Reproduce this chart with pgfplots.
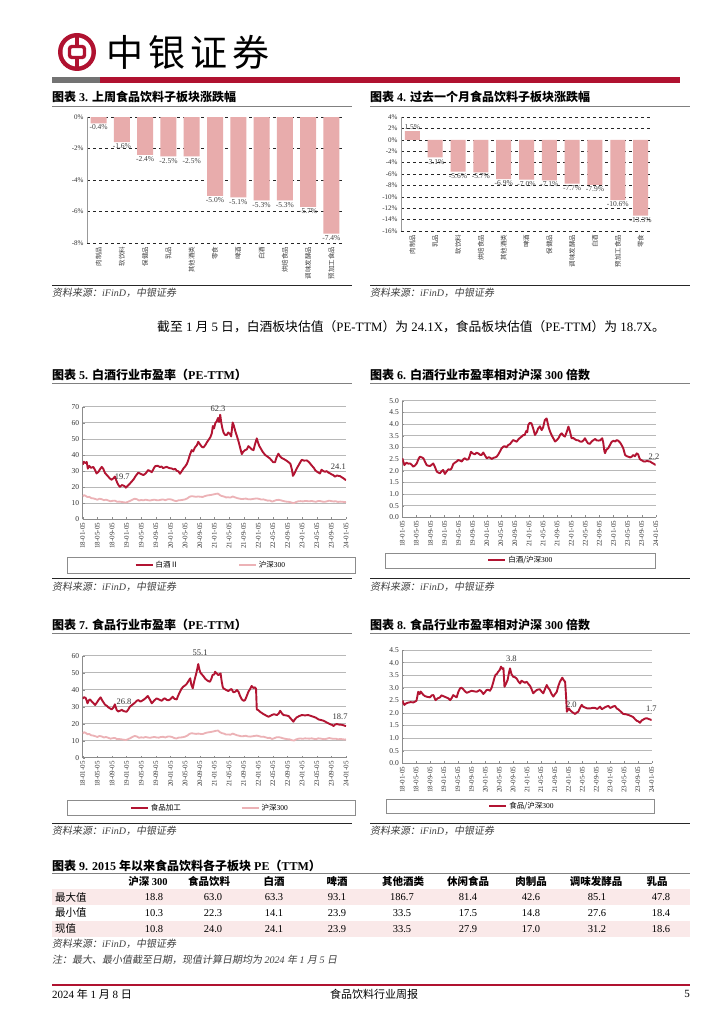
\documentclass[border=0pt]{standalone}
\usepackage{fontspec}
\setmainfont{Liberation Serif}
\newfontfamily\cjk{Noto Sans CJK SC}
\newfontfamily\cjkit{Noto Sans CJK SC}[FakeSlant=0.18]
\usepackage{pgfplots}
\usepackage{pgfplotstable}
\pgfplotsset{compat=1.18}
\pgfkeys{/pgf/number format/assume math mode=true}

\newcommand{\zh}[1]{{\cjk #1}}
\newcommand{\zhit}[1]{{\cjkit #1}}
\newcommand{\src}{{\itshape\zhit{资料来源：}iFinD\zhit{，中银证券}}}

\definecolor{bocred}{RGB}{176,18,48}
\definecolor{linered}{RGB}{178,20,50}
\definecolor{hspink}{RGB}{236,178,182}
\definecolor{barpink}{RGB}{232,172,172}
\definecolor{rowpink}{RGB}{250,233,233}

% ---- data (months since 2018-01-05) ----
\pgfplotstableread{
x y
0 34.0
0.3 35.8
0.7 35.0
1.1 35.6
1.4 31.5
1.8 33.2
2.3 32.0
2.9 32.6
3.4 30.5
3.8 28.5
4.3 29.5
4.7 31.0
5.2 32.6
5.6 31.5
6.1 28.8
6.6 27.5
7.0 26.5
7.5 25.2
7.9 24.6
8.4 25.5
8.8 26.6
9.3 23.5
9.7 21.5
10.2 20.2
10.7 21.3
11.1 21.0
11.5 20.5
11.8 19.7
12.3 20.8
12.9 22.2
13.4 23.5
13.9 24.8
14.5 27.0
15.2 29.0
15.8 28.3
16.6 27.5
17.2 28.5
17.9 30.6
18.4 30.0
18.9 29.3
19.4 31.5
19.8 33.0
20.5 33.3
21.1 32.5
21.6 32.8
22.0 31.8
22.5 32.3
23.0 32.6
23.6 31.9
24.3 31.6
24.9 31.0
25.3 31.4
25.7 30.2
26.2 29.8
26.6 28.3
27.1 30.0
27.6 31.8
28.0 32.8
28.5 34.5
28.9 37.0
29.3 40.0
29.8 43.0
30.2 42.2
30.7 44.7
31.2 46.0
31.6 48.2
32.1 46.5
32.6 45.0
33.0 44.7
33.5 46.0
34.0 48.0
34.4 49.3
34.9 51.0
35.3 53.4
35.6 58.0
35.9 56.5
36.3 60.0
36.6 60.7
37.0 63.0
37.3 60.5
37.6 65.0
37.9 60.0
38.2 56.5
38.5 54.0
38.9 52.5
39.4 52.4
39.8 54.0
40.3 53.0
40.6 51.5
41.0 60.2
41.3 58.5
41.7 55.0
42.2 51.5
42.6 48.5
43.0 45.0
43.5 40.5
43.9 42.0
44.4 43.0
44.9 43.5
45.3 45.5
45.8 44.5
46.2 43.5
46.7 43.0
47.1 46.5
47.6 50.3
47.9 48.0
48.3 45.5
48.7 44.0
49.2 42.0
49.9 40.0
50.5 39.0
51.2 37.8
51.7 36.5
52.1 35.5
52.6 35.5
53.0 38.5
53.5 40.8
54.0 39.0
54.5 38.0
54.9 37.6
55.5 36.8
56.0 36.0
56.3 35.5
56.8 34.5
57.2 31.0
57.5 27.0
57.9 28.5
58.5 31.5
59.0 33.5
59.5 35.5
59.9 37.0
60.5 36.5
61.3 36.6
61.9 35.5
62.6 33.5
63.2 32.0
63.6 30.5
64.0 29.7
64.5 29.0
64.9 28.5
65.3 30.8
65.8 30.0
66.3 29.5
66.7 30.0
67.2 29.0
67.6 28.6
68.0 28.0
68.5 27.5
69.0 26.5
69.5 27.2
70.0 27.0
70.4 26.8
70.8 26.2
71.3 25.5
71.7 24.8
72.0 24.3
}\tbBaijiu

\pgfplotstableread{
x y
0 14.3
0.4 15.0
0.8 14.6
1.3 13.8
1.8 14.0
2.3 13.2
2.9 13.0
3.5 12.6
4.0 12.2
4.6 12.8
5.2 12.5
5.8 11.9
6.4 12.2
7.0 11.7
7.6 11.2
8.2 11.5
8.8 11.6
9.4 10.9
10.0 11.0
10.6 10.8
11.2 10.6
11.8 10.4
12.4 10.9
13.0 11.5
13.6 12.2
14.2 12.8
14.8 12.5
15.4 11.7
16.0 12.0
16.6 11.8
17.2 12.2
17.8 11.9
18.4 11.7
19.0 12.0
19.6 12.2
20.2 11.9
20.8 11.8
21.4 12.2
22.0 12.3
22.6 11.9
23.2 12.4
23.8 12.5
24.4 12.2
25.0 11.6
25.6 11.3
26.2 11.8
26.8 11.9
27.4 12.1
28.0 12.4
28.6 13.0
29.2 14.0
29.8 14.4
30.4 14.2
31.0 14.0
31.6 14.2
32.2 14.0
32.8 13.9
33.4 14.4
34.0 14.8
34.6 15.0
35.2 15.2
35.8 15.5
36.4 15.8
37.0 16.0
37.4 15.2
38.0 14.5
38.6 14.2
39.2 13.6
39.8 13.7
40.4 13.5
41.0 14.2
41.6 13.7
42.2 13.2
42.8 12.9
43.4 12.6
44.0 12.7
44.6 12.9
45.2 12.5
45.8 12.4
46.4 12.6
47.0 12.8
47.6 13.0
48.2 12.7
48.8 12.3
49.4 12.4
50.0 12.0
50.6 11.6
51.2 11.7
51.8 11.0
52.4 11.5
53.0 12.0
53.6 12.1
54.2 11.8
54.8 11.4
55.4 11.1
56.0 10.9
56.6 10.8
57.2 10.3
57.8 10.1
58.4 10.8
59.0 11.2
59.6 11.3
60.2 11.1
60.8 11.4
61.4 11.3
62.0 11.2
62.6 11.4
63.2 11.1
63.8 10.9
64.4 11.4
65.0 11.3
65.6 11.0
66.2 10.9
66.8 11.2
67.4 11.6
68.0 11.3
68.6 11.1
69.2 11.2
69.8 10.8
70.4 11.0
71.0 10.9
71.6 10.7
72.0 10.8
}\tbHS

\pgfplotstableread{
x y
0 34.8
0.4 35.6
0.8 35.2
1.1 33.5
1.3 32.0
1.7 33.8
2.0 34.3
2.5 33.0
3.0 32.0
3.4 31.0
3.9 32.5
4.3 33.9
4.9 35.5
5.4 33.5
6.1 31.2
6.6 30.5
7.0 29.6
7.5 29.0
7.9 28.4
8.4 29.5
8.8 31.4
9.3 28.0
9.7 27.2
10.2 27.6
10.7 28.2
11.1 27.5
11.6 27.2
12.0 27.0
12.5 28.5
12.9 30.0
13.5 31.0
14.3 32.4
14.8 33.5
15.2 33.9
15.8 33.0
16.6 34.0
17.2 35.0
17.8 36.3
18.3 34.5
18.9 32.0
19.5 33.5
20.2 34.9
20.9 34.2
21.6 33.5
22.1 34.6
22.5 34.9
23.0 34.0
23.5 33.8
23.9 34.3
24.6 35.9
25.1 34.6
25.7 34.3
26.1 36.5
26.6 38.8
27.0 40.5
27.5 41.8
28.0 42.5
28.4 43.3
28.9 45.0
29.4 46.7
29.7 43.0
30.1 40.8
30.4 44.0
30.7 46.7
31.1 50.0
31.4 53.0
31.6 55.1
31.9 52.0
32.2 50.0
32.5 49.2
33.0 48.0
33.5 46.5
33.9 45.7
34.4 45.0
34.8 44.7
35.2 46.5
35.5 48.6
36.0 49.0
36.2 50.6
36.7 49.5
37.1 48.6
37.7 49.6
38.0 45.0
38.3 41.5
38.5 40.8
39.1 40.0
39.8 39.2
40.3 40.0
40.7 40.4
41.2 38.5
41.7 38.8
42.2 39.8
42.6 38.8
43.0 36.5
43.5 34.3
44.0 33.5
44.4 33.9
44.9 36.5
45.3 38.8
45.8 40.5
46.2 42.2
46.7 41.0
47.1 41.4
47.4 40.5
47.6 28.4
48.0 28.0
48.5 27.0
49.0 26.3
49.4 25.7
50.0 25.0
50.8 24.1
51.3 24.6
51.7 25.1
52.3 25.6
53.1 25.1
53.6 26.0
54.0 27.6
54.5 26.0
54.9 25.1
55.6 24.9
56.3 24.5
56.9 23.0
57.3 22.0
57.6 21.2
58.0 22.5
58.5 23.7
59.2 24.5
59.9 25.1
60.8 24.9
61.7 25.1
62.4 24.6
63.1 24.1
63.8 23.5
64.5 22.5
65.1 22.2
65.8 21.8
66.5 21.0
67.2 20.2
67.8 19.6
68.3 19.2
68.6 18.6
69.0 19.5
69.5 19.8
70.1 19.5
70.8 19.4
71.4 19.0
72.0 18.6
}\tbFood

\pgfplotstableread{
x y
0 2.53
0.3 2.38
0.6 2.24
0.9 2.30
1.2 2.34
1.7 2.30
2.2 2.31
2.7 2.25
3.1 2.17
3.6 2.22
4.1 2.31
4.6 2.50
5.0 2.60
5.5 2.57
6.0 2.53
6.4 2.40
6.9 2.24
7.4 2.21
7.9 2.20
8.4 2.26
8.8 2.31
9.3 2.15
9.8 1.96
10.2 1.92
10.7 1.89
11.2 1.98
11.6 2.03
12.1 1.86
12.6 1.97
13.1 2.06
13.6 2.04
14.0 2.10
14.5 2.29
15.0 2.35
15.5 2.40
15.9 2.46
16.4 2.43
16.9 2.39
17.4 2.50
17.8 2.53
18.3 2.47
18.8 2.49
19.2 2.65
19.5 2.81
20.0 2.74
20.6 2.70
21.1 2.77
21.6 2.74
22.1 2.68
22.5 2.67
23.0 2.78
23.5 2.65
24.0 2.53
24.6 2.58
25.0 2.55
25.4 2.50
25.9 2.55
26.4 2.57
26.8 2.60
27.3 2.70
27.7 2.81
28.2 2.95
28.7 3.03
29.1 3.05
29.6 3.00
30.1 3.10
30.6 3.14
31.0 3.22
31.5 3.31
32.0 3.28
32.5 3.24
33.0 3.35
33.4 3.40
33.9 3.46
34.3 3.52
34.8 3.53
35.2 3.70
35.5 3.65
35.8 3.96
36.2 4.05
36.7 4.03
37.2 3.80
37.7 3.53
38.2 3.65
38.6 3.81
39.1 3.90
39.6 3.74
40.0 3.85
40.5 4.17
41.0 4.24
41.3 4.05
41.6 3.85
42.0 3.67
42.5 3.50
42.9 3.39
43.4 3.25
43.9 3.31
44.4 3.40
44.9 3.55
45.3 3.60
45.8 3.50
46.2 3.46
46.7 3.65
47.2 3.89
47.6 3.70
48.1 3.39
48.6 3.40
49.0 3.35
49.5 3.31
50.0 3.30
50.5 3.25
51.0 3.24
51.5 3.30
51.9 3.39
52.4 3.25
52.8 3.17
53.3 3.15
53.8 3.25
54.3 3.31
54.8 3.36
55.2 3.30
55.7 3.29
56.2 3.30
56.8 3.39
57.1 3.20
57.4 2.85
57.6 2.75
58.0 2.90
58.5 2.96
59.0 3.10
59.5 3.24
60.0 3.28
60.5 3.25
60.9 3.31
61.4 3.28
61.9 3.20
62.3 3.10
62.8 2.95
63.3 2.67
63.8 2.62
64.2 2.60
64.7 2.57
65.2 2.60
65.6 2.67
66.1 2.62
66.6 2.74
67.0 2.70
67.5 2.49
68.0 2.45
68.5 2.40
69.0 2.39
69.5 2.42
70.0 2.40
70.4 2.39
70.9 2.34
71.4 2.30
72.0 2.24
}\tbBaijiuRel

\pgfplotstableread{
x y
0 2.49
0.3 2.40
0.6 2.32
1.1 2.38
1.7 2.41
2.4 2.43
3.2 2.42
3.7 2.45
4.1 2.49
4.4 2.70
4.6 2.84
5.0 2.75
5.3 2.85
5.6 2.80
6.0 2.73
6.5 2.67
7.2 2.64
8.0 2.62
8.5 2.70
9.0 2.71
9.3 2.60
9.6 2.51
10.2 2.58
10.9 2.62
11.3 2.70
11.8 2.67
12.3 2.64
12.8 2.61
13.3 2.58
13.8 2.51
14.3 2.60
14.7 2.71
15.2 2.66
15.7 2.62
16.2 2.85
16.7 2.98
17.1 3.00
17.6 2.94
18.1 2.86
18.6 2.80
19.3 2.84
20.0 2.88
20.7 2.86
21.5 2.84
22.0 2.88
22.4 2.91
22.9 2.85
23.4 2.75
23.9 2.83
24.3 2.91
24.8 2.92
25.3 2.88
25.8 3.00
26.3 3.24
26.6 3.40
26.9 3.51
27.3 3.55
27.7 3.64
28.1 3.70
28.5 3.84
28.9 3.75
29.2 3.78
29.5 3.04
29.9 3.15
30.4 3.31
30.8 3.60
31.1 3.77
31.5 3.55
32.0 3.44
32.5 3.42
33.0 3.37
33.5 3.25
34.0 3.17
34.4 3.28
34.9 3.24
35.4 3.20
35.9 3.24
36.4 3.15
36.9 3.07
37.3 2.95
37.8 2.78
38.3 2.85
38.8 2.91
39.2 2.93
39.7 2.94
40.2 2.85
40.7 2.78
41.2 2.95
41.7 3.11
42.1 3.00
42.6 2.91
43.1 2.75
43.6 2.65
44.1 2.75
44.6 2.84
45.0 3.05
45.5 3.24
46.2 3.40
46.6 3.30
47.0 3.24
47.3 2.60
47.5 2.05
48.1 2.18
48.5 2.10
48.9 2.05
49.4 2.00
49.9 1.96
50.4 2.02
50.8 2.05
51.3 2.20
51.8 2.32
52.2 2.25
52.7 2.22
53.4 2.18
54.2 2.18
54.9 2.20
55.6 2.20
56.3 2.16
57.1 2.25
57.6 2.15
58.0 2.18
58.7 2.24
59.5 2.28
60.0 2.20
60.4 2.22
60.9 2.26
61.4 2.28
61.9 2.18
62.4 2.14
63.1 2.05
63.8 1.96
64.5 1.95
65.3 1.92
66.0 1.88
66.7 1.83
67.2 1.75
67.7 1.69
68.2 1.66
68.6 1.61
69.1 1.70
69.6 1.74
70.1 1.78
70.6 1.79
71.3 1.75
72.0 1.72
}\tbFoodRel

\tikzset{
  redline/.style={linered, line width=1.9pt, line join=round},
  pinkline/.style={hspink, line width=1.8pt, line join=round},
  lbl/.style={font=\fontsize{8.5}{8.5}\selectfont, text=black!80, inner sep=0pt},
}
\pgfplotsset{
  barchart/.style={
    scale only axis, anchor=south west, ybar, enlargelimits=false,
    xmin=-0.5, xmax=10.5, xtick={0,...,10},
    xticklabel style={font=\cjk\fontsize{6.5}{6.5}\selectfont, rotate=90, anchor=east, text=black!75},
    yticklabel={\pgfmathprintnumber{\tick}\%},
    yticklabel style={font=\fontsize{7}{7}\selectfont, text=black!80},
    ymajorgrids, grid style={black!85, dashed, line width=0.4pt},
    axis lines*=left, axis line style={-}, x axis line style={draw=none},
    y axis line style={black!40}, major tick length=0pt,
    nodes near coords={\pgfmathprintnumber[fixed,fixed zerofill,precision=1]{\pgfplotspointmeta}\%},
    every node near coord/.append style={font=\fontsize{7.5}{7.5}\selectfont, text=black!75, inner sep=1.5pt},
  },
  linechart/.style={
    scale only axis, anchor=south west, xmin=0, xmax=72, clip mode=individual,
    xtick={0,4,...,72},
    xticklabels={18-01-05,18-05-05,18-09-05,19-01-05,19-05-05,19-09-05,20-01-05,20-05-05,20-09-05,21-01-05,21-05-05,21-09-05,22-01-05,22-05-05,22-09-05,23-01-05,23-05-05,23-09-05,24-01-05},
    x tick label style={rotate=90, anchor=east, font=\fontsize{7}{7}\selectfont, text=black!80},
    y tick label style={font=\fontsize{7.5}{7.5}\selectfont, text=black!80},
    ymajorgrids, grid style={black!28, line width=0.6pt},
    axis lines*=left, axis line style={-, black!45, line width=0.6pt},
    major tick length=2pt, tick style={black!45},
    legend style={draw=none, fill=none, font=\fontsize{7.5}{7.5}\selectfont, legend columns=2, anchor=center,
      /tikz/every even column/.append style={column sep=58pt}},
    legend image code/.code={\draw[#1, line width=1.9pt] (0pt,0pt) -- (17pt,0pt);},
  },
}

\begin{document}
\begin{tikzpicture}
\fill[white] (0pt,0pt) rectangle (724pt,-1024pt);
\path[use as bounding box] (0pt,0pt) rectangle (724pt,-1024pt);

% ---- header ----
\fill[bocred] (77pt,-52pt) circle (19pt);
\fill[white] (77pt,-52pt) circle (14.5pt);
\fill[bocred] (74.6pt,-37pt) rectangle (79.4pt,-67pt);
\draw[bocred, line width=3.4pt, rounded corners=2.5pt, fill=white] (69.5pt,-46.5pt) rectangle (84.5pt,-57.5pt);
\node[anchor=west, inner sep=0pt, font=\cjk\fontsize{37}{37}\selectfont] at (106pt,-52pt)
  {中\hspace{5pt}银\hspace{5pt}证\hspace{5pt}券};
\fill[black!55] (52pt,-77pt) rectangle (100pt,-83pt);
\fill[bocred] (100pt,-77pt) rectangle (680pt,-83pt);

% ---- titles ----
\begin{scope}[every node/.style={anchor=west, inner sep=0pt, font=\bfseries\fontsize{12}{12}\selectfont}]
\node at (52pt,-97pt) {\zh{图表} 3. \zh{上周食品饮料子板块涨跌幅}};
\node at (370pt,-97pt) {\zh{图表} 4. \zh{过去一个月食品饮料子板块涨跌幅}};
\node at (52pt,-375pt) {\zh{图表} 5. \zh{白酒行业市盈率（}PE-TTM\zh{）}};
\node at (370pt,-375pt) {\zh{图表} 6. \zh{白酒行业市盈率相对沪深} 300 \zh{倍数}};
\node at (52pt,-625pt) {\zh{图表} 7. \zh{食品行业市盈率（}PE-TTM\zh{）}};
\node at (370pt,-625pt) {\zh{图表} 8. \zh{食品行业市盈率相对沪深} 300 \zh{倍数}};
\node at (52pt,-866pt) {\zh{图表} 9. 2015 \zh{年以来食品饮料各子板块} PE\zh{（}TTM\zh{）}};
\end{scope}
\begin{scope}[black!50, line width=1pt]
\draw (52pt,-106.5pt) -- (352pt,-106.5pt);
\draw (370pt,-106.5pt) -- (690pt,-106.5pt);
\draw (52pt,-383.5pt) -- (352pt,-383.5pt);
\draw (370pt,-383.5pt) -- (690pt,-383.5pt);
\draw (52pt,-633.5pt) -- (352pt,-633.5pt);
\draw (370pt,-633.5pt) -- (690pt,-633.5pt);
\draw (52pt,-873.5pt) -- (690pt,-873.5pt);
\end{scope}

% ---- sources ----
\begin{scope}[black!85, line width=1pt]
\draw (52pt,-285pt) -- (352pt,-285pt);
\draw (370pt,-285pt) -- (690pt,-285pt);
\draw (52pt,-578.5pt) -- (352pt,-578.5pt);
\draw (370pt,-578.5pt) -- (690pt,-578.5pt);
\draw (52pt,-823pt) -- (352pt,-823pt);
\draw (370pt,-823pt) -- (690pt,-823pt);
\end{scope}
\begin{scope}[every node/.style={anchor=west, inner sep=0pt, text=black!75, font=\fontsize{10}{10}\selectfont}]
\node at (52pt,-293pt) {\src};
\node at (370pt,-293pt) {\src};
\node at (52pt,-587pt) {\src};
\node at (370pt,-587pt) {\src};
\node at (52pt,-831pt) {\src};
\node at (370pt,-831pt) {\src};
\node at (52pt,-944pt) {\src};
\node at (52pt,-960pt) {\itshape\zhit{注：最大、最小值截至日期，现值计算日期均为} 2024 \zhit{年} 1 \zhit{月} 5 \zhit{日}};
\end{scope}

% ---- body text ----
\node[anchor=west, inner sep=0pt, font=\fontsize{12.8}{12.8}\selectfont] at (157pt,-327pt)
  {\zh{截至} 1 \zh{月} 5 \zh{日，白酒板块估值（}PE-TTM\zh{）为} 24.1X\zh{，食品板块估值（}PE-TTM\zh{）为} 18.7X\zh{。}};

% ---- chart 3 ----
\begin{axis}[barchart, at={(87pt,-243pt)}, width=256pt, height=126pt, bar width=16pt,
  ymin=-8, ymax=0, ytick={-8,-6,...,0},
  xticklabels={肉制品,软饮料,保健品,乳品,其他酒类,零食,啤酒,白酒,烘焙食品,调味发酵品,预加工食品}]
\addplot[fill=barpink, draw=none] coordinates {(0,-0.4) (1,-1.6) (2,-2.4) (3,-2.5) (4,-2.5) (5,-5.0) (6,-5.1) (7,-5.3) (8,-5.3) (9,-5.7) (10,-7.4)};
\end{axis}

% ---- chart 4 ----
\begin{axis}[barchart, at={(401pt,-231pt)}, width=251pt, height=114pt, bar width=15pt,
  ymin=-16, ymax=4, ytick={-16,-14,...,4},
  xticklabels={肉制品,乳品,软饮料,烘焙食品,其他酒类,啤酒,保健品,调味发酵品,白酒,预加工食品,零食}]
\addplot[fill=barpink, draw=none] coordinates {(0,1.5) (1,-3.1) (2,-5.6) (3,-5.7) (4,-6.9) (5,-7.0) (6,-7.1) (7,-7.7) (8,-7.9) (9,-10.6) (10,-13.3)};
\end{axis}

% ---- chart 5 ----
\draw[black!45, line width=0.6pt] (67pt,-557pt) rectangle (355pt,-573pt);
\begin{axis}[linechart, at={(82.7pt,-519.3pt)}, width=263.3pt, height=112.6pt,
  ymin=0, ymax=70, ytick={0,10,...,70},
  legend style={at={(0.487,-0.406)}}]
\addplot[redline] table[x=x, y=y] {\tbBaijiu};
\addlegendentry{\zh{白酒Ⅱ}}
\addplot[pinkline] table[x=x, y=y] {\tbHS};
\addlegendentry{\zh{沪深}300}
\node[lbl] at (37,68.5) {62.3};
\node[lbl] at (10.8,26.3) {19.7};
\node[lbl] at (69.9,32.5) {24.1};
\end{axis}

% ---- chart 6 ----
\draw[black!45, line width=0.6pt] (385pt,-553pt) rectangle (655pt,-568pt);
\begin{axis}[linechart, at={(402.3pt,-517.3pt)}, width=253.4pt, height=116.6pt,
  ymin=0, ymax=5, ytick={0,0.5,...,5},
  yticklabel style={/pgf/number format/.cd, fixed, fixed zerofill, precision=1},
  legend style={at={(0.468,-0.37)}}]
\addplot[redline] table[x=x, y=y] {\tbBaijiuRel};
\addlegendentry{\zh{白酒/沪深}300}
\node[lbl] at (71.5,2.6) {2.2};
\end{axis}

% ---- chart 7 ----
\draw[black!45, line width=0.6pt] (67pt,-800pt) rectangle (355pt,-815pt);
\begin{axis}[linechart, at={(82.7pt,-757.7pt)}, width=263.3pt, height=102pt,
  ymin=0, ymax=60, ytick={0,10,...,60},
  legend style={at={(0.483,-0.49)}}]
\addplot[redline] table[x=x, y=y] {\tbFood};
\addlegendentry{\zh{食品加工}}
\addplot[pinkline] table[x=x, y=y] {\tbHS};
\addlegendentry{\zh{沪深}300}
\node[lbl] at (32.1,61.6) {55.1};
\node[lbl] at (11.3,32.9) {26.8};
\node[lbl] at (70.4,24.1) {18.7};
\end{axis}

% ---- chart 8 ----
\draw[black!45, line width=0.6pt] (386pt,-799pt) rectangle (654pt,-813pt);
\begin{axis}[linechart, at={(402.3pt,-763.3pt)}, width=249.4pt, height=113.3pt,
  ymin=0, ymax=4.5, ytick={0,0.5,...,4.5},
  yticklabel style={/pgf/number format/.cd, fixed, fixed zerofill, precision=1},
  legend style={at={(0.48,-0.377)}}]
\addplot[redline] table[x=x, y=y] {\tbFoodRel};
\addlegendentry{\zh{食品/沪深}300}
\node[lbl] at (31.5,4.17) {3.8};
\node[lbl] at (48.8,2.34) {2.0};
\node[lbl] at (71.9,2.16) {1.7};
\end{axis}

% ---- table 9 ----
\fill[rowpink] (52pt,-889pt) rectangle (690pt,-905pt);
\fill[rowpink] (52pt,-921pt) rectangle (690pt,-937pt);
\begin{scope}[every node/.style={inner sep=0pt, anchor=base, font=\bfseries\fontsize{10.5}{10.5}\selectfont}]
\node at (148pt,-885pt) {\zh{沪深} 300};
\node at (209pt,-885pt) {\zh{食品饮料}};
\node at (274pt,-885pt) {\zh{白酒}};
\node at (337pt,-885pt) {\zh{啤酒}};
\node at (403pt,-885pt) {\zh{其他酒类}};
\node at (468pt,-885pt) {\zh{休闲食品}};
\node at (531pt,-885pt) {\zh{肉制品}};
\node at (596pt,-885pt) {\zh{调味发酵品}};
\node at (657pt,-885pt) {\zh{乳品}};
\end{scope}
\begin{scope}[every node/.style={inner sep=0pt, anchor=west, font=\cjk\fontsize{10.5}{10.5}\selectfont}]
\node at (55pt,-897pt) {最大值};
\node at (55pt,-913pt) {最小值};
\node at (55pt,-929pt) {现值};
\end{scope}
\begin{scope}[every node/.style={inner sep=0pt, font=\fontsize{10.5}{10.5}\selectfont}]
\foreach \xx/\a/\b/\c in {154/18.8/10.3/10.8, 213/63.0/22.3/24.0, 274/63.3/14.1/24.1, 337/93.1/23.9/23.9,
    402/186.7/33.5/33.5, 468/81.4/17.5/27.9, 531/42.6/14.8/17.0, 597/85.1/27.6/31.2, 661/47.8/18.4/18.6}{
  \node at (\xx pt,-897pt) {\a};
  \node at (\xx pt,-913pt) {\b};
  \node at (\xx pt,-929pt) {\c};
}
\end{scope}

% ---- footer ----
\draw[bocred, line width=1.2pt] (52pt,-985pt) -- (690pt,-985pt);
\begin{scope}[every node/.style={inner sep=0pt, font=\fontsize{11}{11}\selectfont}]
\node[anchor=west] at (52pt,-994pt) {2024 \zh{年} 1 \zh{月} 8 \zh{日}};
\node at (374pt,-994pt) {\zh{食品饮料行业周报}};
\node[anchor=east] at (690pt,-994pt) {5};
\end{scope}
\end{tikzpicture}
\end{document}
